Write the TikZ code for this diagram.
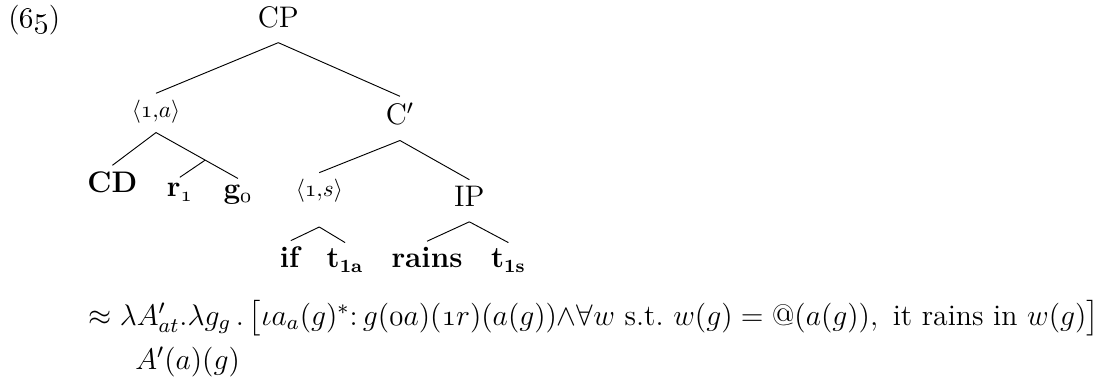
\RequirePackage{fix-cm}
\documentclass[tikz,border=0pt,12pt]{standalone}
\usepackage{amsmath,amssymb}
\usepackage{tikz}
\newcommand{\os}[1]{\oldstylenums{#1}}
\tikzset{tn/.style={inner sep=2.5pt,text depth=4pt,anchor=base}}

\begin{document}
\begin{tikzpicture}[font=\fontsize{12.8}{15.4}\selectfont]
\useasboundingbox (0,0) rectangle (16.67,5.75);
\node[anchor=base west,inner sep=0pt] (ex) at (.12,5.33) {(\os{65})};
\node[tn] (CP) at (4.21,5.34) {CP};
\node[tn,font=\footnotesize] (ca) at (2.36,3.98) {$\langle\os{1}{,}a\rangle$};
\node[tn] (cbar) at (6.05,3.86) {C$'$};
\node[tn] (cd) at (1.70,2.84) {\textbf{CD}};
\node[tn] (r1) at (2.72,2.77) {\textbf{r}$_{\os{1}}$};
\node[tn] (g0) at (3.60,2.75) {\textbf{g}$_{\os{0}}$};
\node[tn,font=\footnotesize,text depth=10.5pt] (cs) at (4.83,2.78) {$\langle\os{1}{,}s\rangle$};
\node[tn] (ip) at (7.10,2.63) {IP};
\node[tn] (if) at (4.40,1.70) {\textbf{if}};
\node[tn] (t1a) at (5.22,1.70) {\textbf{t}$_{\textbf{\scriptsize 1a}}$};
\node[tn] (rains) at (6.46,1.70) {\textbf{rains}};
\node[tn] (t1s) at (7.69,1.70) {\textbf{t}$_{\textbf{\scriptsize 1s}}$};
\draw (CP.south) -- (ca.north);
\draw (CP.south) -- (cbar.north);
\draw (ca.south) -- (cd.north);
\draw (ca.south) -- (g0.north) coordinate[pos=.6] (rg);
\draw (rg) -- (r1.north);
\draw (cbar.south) -- (cs.north);
\draw (cbar.south) -- (ip.north);
\draw (cs.south) -- (if.north);
\draw (cs.south) -- (t1a.north);
\draw (ip.south) -- (rains.north);
\draw (ip.south) -- (t1s.north);
\node[anchor=base west,inner sep=0pt] (sem) at (1.33,.83)
  {$\approx \lambda A'_{at}.\lambda g_g\,.\,\bigl[\iota a_a(g)^*{:}\,g(\os{0}a)(\os{1}r)(a(g)){\wedge}\forall w \text{ s.t.\ } w(g) = \text{@}(a(g)),\text{ it rains in }w(g)\bigr]$};
\node[anchor=base west,inner sep=0pt] (sem2) at (2.04,.16) {$A'(a)(g)$};
\end{tikzpicture}
\end{document}
